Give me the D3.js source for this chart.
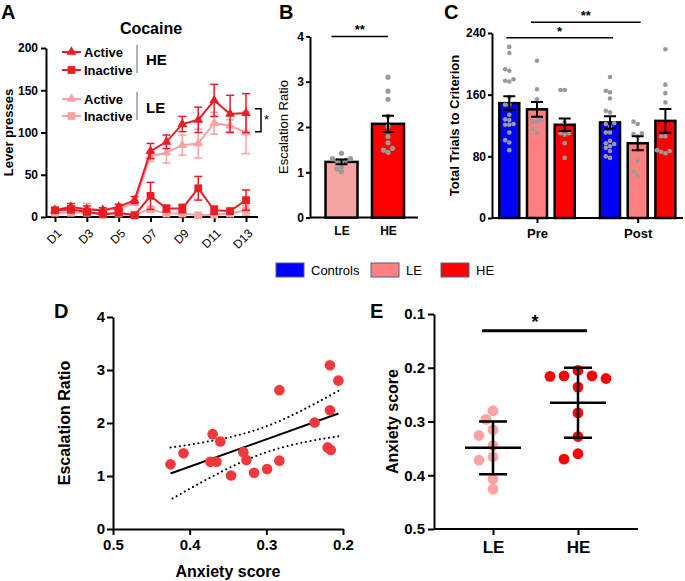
<!DOCTYPE html>
<html>
<head>
<meta charset="utf-8">
<script src="https://cdn.jsdelivr.net/npm/d3@7"></script>
<style>
  body { margin: 0; background: #fff; }
  svg { display: block; font-family: Arial, "Liberation Sans", sans-serif; }
</style>
</head>
<body>
<div id="chart"></div>
<script>
// ---------- data ----------
// A: lever presses per day (mean, sem)
const days = ["D1","D2","D3","D4","D5","D6","D7","D8","D9","D10","D11","D12","D13"];
const dayLabels = ["D1","D3","D5","D7","D9","D11","D13"];
const heActive      = [8, 12, 9, 8, 12, 20, 78, 89, 110, 115, 138, 122, 123];
const heActiveErr   = [3, 4, 4, 3, 3, 4, 9, 8, 9, 15, 19, 22, 23];
const heInactive    = [8, 9, 6, 3, 5, 2, 25, 10, 10, 34, 8, 7, 20];
const heInactiveErr = [3, 4, 3, 2, 2, 1, 16, 4, 5, 14, 5, 3, 12];
const leActive      = [7, 10, 10, 8, 10, 17, 72, 76, 85, 87, 111, 108, 100];
const leActiveErr   = [3, 3, 6, 3, 3, 3, 6, 12, 12, 17, 13, 7, 25];
const leInactive    = [5, 5, 5, 4, 4, 3, 9, 4, 4, 2, 3, 4, 8];
const leInactiveErr = [2, 2, 2, 2, 2, 1, 3, 2, 2, 1, 1, 2, 6];

// B: escalation ratio
const bGroups = ["LE", "HE"];
const bMeans = [1.23, 2.07];
const bSem = [0.05, 0.18];
const bLePoints = [1.42, 1.30, 1.26, 1.23, 1.27, 1.30, 1.12, 1.07, 1.01];
const bHePoints = [3.10, 2.79, 2.61, 2.24, 2.01, 1.79, 1.65, 1.53, 1.49, 1.44];

// C: total trials to criterion
const cPhases = ["Pre", "Post"];
const cGroups = ["Controls", "LE", "HE"];
const cPreMeans = [149, 141, 121];
const cPreSem = [9, 9.5, 8];
const cPostMeans = [124, 97, 126];
const cPostSem = [8, 9, 15.5];
const cPreControls = [222, 214, 193, 191, 180, 177, 178, 157, 147, 147, 134, 128, 127, 121, 121, 122, 111, 101, 98, 88];
const cPreLE = [204, 167, 154, 127, 125, 125, 110, 115];
const cPreHE = [166, 166, 124, 110, 110, 108, 97, 78];
const cPostControls = [183, 163, 165, 155, 137, 139, 123, 118, 122, 111, 111, 97, 96, 100, 91, 93, 87, 78, 80];
const cPostLE = [122, 125, 109, 110, 106, 74, 60, 55];
const cPostHE = [219, 173, 162, 150, 106, 106, 87, 84, 86, 88];

// D: anxiety score vs escalation ratio
const dAnxiety = [0.425, 0.408, 0.370, 0.360, 0.373, 0.365, 0.346, 0.330, 0.326, 0.316, 0.299, 0.283, 0.283, 0.237, 0.217, 0.217, 0.220, 0.216, 0.206];
const dRatio   = [1.22, 1.43, 1.79, 1.65, 1.27, 1.27, 1.01, 1.45, 1.30, 1.06, 1.13, 2.62, 1.29, 2.01, 2.24, 3.09, 1.54, 1.49, 2.80];

// E: anxiety score (mean, sd)
const eGroups = ["LE", "HE"];
const eLePoints = [0.280, 0.296, 0.315, 0.326, 0.345, 0.366, 0.372, 0.407, 0.426];
const eHePoints = [0.215, 0.220, 0.205, 0.216, 0.215, 0.236, 0.284, 0.328, 0.360, 0.370];
const eMeans = [0.349, 0.265];
const eSd = [0.049, 0.065];

// ---------- setup ----------
const HE_RED = "#ec1c24";
const LE_PINK = "#f6a3a3";
const BLUE = "#0000ff";
const PINK_C = "#ff8080";
const RED = "#ff0000";
const GREY = "#9a9a9a";

const svg = d3.select("#chart").append("svg")
  .attr("width", 685)
  .attr("height", 581);

// style an axis the GraphPad way
function styleAxis(g, size, bold) {
  g.attr("font-family", null).attr("font-size", null);
  g.select(".domain").attr("stroke", "#000").attr("stroke-width", 2);
  g.selectAll(".tick line").attr("stroke", "#000").attr("stroke-width", 2);
  g.selectAll(".tick text")
    .attr("fill", "#000")
    .attr("font-size", size + "px")
    .attr("font-weight", bold ? "bold" : "normal");
}

// simple beeswarm so points don't overlap
function swarm(values, yScale, r, cx, step) {
  const placed = [];
  const out = new Array(values.length);
  const order = values.map((v, i) => i).sort((a, b) => values[a] - values[b]);
  order.forEach(i => {
    const y = yScale(values[i]);
    let k = 0, x;
    while (true) {
      const off = k === 0 ? 0 : (k % 2 ? -1 : 1) * Math.ceil(k / 2) * step;
      x = cx + off;
      if (placed.every(p => Math.hypot(p.x - x, p.y - y) >= 2 * r * 0.9)) break;
      k++;
    }
    placed.push({ x, y });
    out[i] = { x, y };
  });
  return out;
}

function panelLetter(t, x, y) {
  svg.append("text").attr("x", x).attr("y", y).text(t)
    .attr("font-size", "20px").attr("font-weight", "bold");
}

// ---------- A ----------
const aLeft = 46, aRight = 258;
const aX = d3.scalePoint().domain(days).range([55, 246]);
const aY = d3.scaleLinear().domain([0, 200]).range([217, 48]);
const gA = svg.append("g");

panelLetter("A", 1, 19);
gA.append("text").attr("x", 151).attr("y", 34).attr("text-anchor", "middle")
  .attr("font-size", "16px").attr("font-weight", "bold").text("Cocaine");

gA.append("g").attr("transform", `translate(${aLeft},0)`)
  .call(d3.axisLeft(aY).tickValues([0, 50, 100, 150, 200]).tickSize(5).tickSizeOuter(0).tickPadding(3))
  .call(g => styleAxis(g, 12, true));

gA.append("g").attr("transform", `translate(0,${aY(0)})`)
  .call(d3.axisBottom(aX).tickValues(dayLabels).tickSize(5).tickSizeOuter(0))
  .call(g => styleAxis(g, 12, false))
  .call(g => g.select(".domain").attr("d", `M${aLeft},0H${aRight}`))
  .call(g => g.selectAll(".tick text")
    .attr("y", 0).attr("dy", 0).attr("x", 0)
    .attr("text-anchor", "end")
    .attr("transform", "translate(7,17) rotate(-45)"));

gA.append("text")
  .attr("transform", `translate(13,${aY(100)}) rotate(-90)`)
  .attr("text-anchor", "middle")
  .attr("font-size", "13px").attr("font-weight", "bold")
  .text("Lever presses");

const aSeries = [
  { values: leInactive, err: leInactiveErr, color: LE_PINK, shape: "square" },
  { values: leActive, err: leActiveErr, color: LE_PINK, shape: "triangle" },
  { values: heInactive, err: heInactiveErr, color: HE_RED, shape: "square" },
  { values: heActive, err: heActiveErr, color: HE_RED, shape: "triangle" }
];

function marker(shape) {
  return shape === "square"
    ? d3.symbol(d3.symbolSquare, 60)()
    : d3.symbol(d3.symbolTriangle, 42)();
}

aSeries.forEach(s => {
  const g = gA.append("g");
  const pts = days.map((d, i) => ({ d, v: s.values[i], e: s.err[i] }));
  const eb = g.selectAll(".eb").data(pts).join("g")
    .attr("stroke", s.color).attr("stroke-width", 1.5);
  eb.append("line")
    .attr("x1", p => aX(p.d)).attr("x2", p => aX(p.d))
    .attr("y1", p => aY(Math.max(0, p.v - p.e))).attr("y2", p => aY(p.v + p.e));
  eb.append("line")
    .attr("x1", p => aX(p.d) - 4).attr("x2", p => aX(p.d) + 4)
    .attr("y1", p => aY(p.v + p.e)).attr("y2", p => aY(p.v + p.e));
  eb.append("line")
    .attr("x1", p => aX(p.d) - 4).attr("x2", p => aX(p.d) + 4)
    .attr("y1", p => aY(Math.max(0, p.v - p.e))).attr("y2", p => aY(Math.max(0, p.v - p.e)));
  g.append("path").datum(pts)
    .attr("fill", "none").attr("stroke", s.color).attr("stroke-width", 2)
    .attr("d", d3.line().x(p => aX(p.d)).y(p => aY(p.v)));
  g.selectAll(".m").data(pts).join("path")
    .attr("transform", p => `translate(${aX(p.d)},${aY(p.v)})`)
    .attr("d", marker(s.shape))
    .attr("fill", s.color);
});

// legend inside A
const aLegend = [
  { label: "Active", color: HE_RED, shape: "triangle", y: 52 },
  { label: "Inactive", color: HE_RED, shape: "square", y: 70 },
  { label: "Active", color: LE_PINK, shape: "triangle", y: 99 },
  { label: "Inactive", color: LE_PINK, shape: "square", y: 116 }
];
const aLeg = gA.append("g").selectAll("g").data(aLegend).join("g")
  .attr("transform", d => `translate(62,${d.y})`);
aLeg.append("line").attr("x1", 0).attr("x2", 19)
  .attr("stroke", d => d.color).attr("stroke-width", 2);
aLeg.append("path").attr("transform", "translate(9.5,0)")
  .attr("d", d => marker(d.shape)).attr("fill", d => d.color);
aLeg.append("text").attr("x", 22).attr("dy", "0.36em")
  .attr("font-size", "13px").attr("font-weight", "bold").text(d => d.label);
[["HE", 45, 73, 65], ["LE", 92, 120, 113]].forEach(([t, y1, y2, ty]) => {
  gA.append("line").attr("x1", 137).attr("x2", 137).attr("y1", y1).attr("y2", y2)
    .attr("stroke", "#999").attr("stroke-width", 1.5);
  gA.append("text").attr("x", 146).attr("y", ty)
    .attr("font-size", "15px").attr("font-weight", "bold").text(t);
});
gA.append("path")
  .attr("d", `M255,${aY(128)}H261V${aY(101)}H255`)
  .attr("fill", "none").attr("stroke", "#000").attr("stroke-width", 1.5);
gA.append("text").attr("x", 264).attr("y", aY(110)).attr("font-size", "13px").text("*");

// ---------- B ----------
const bLeft = 310, bRight = 418;
const bX = d3.scalePoint().domain(bGroups).range([341.5, 388]);
const bY = d3.scaleLinear().domain([0, 4]).range([217.6, 36.4]);
const bBarW = 32;
const bColors = [LE_PINK, RED];
const gB = svg.append("g");
panelLetter("B", 279, 19);

gB.append("g").attr("transform", `translate(${bLeft},0)`)
  .call(d3.axisLeft(bY).ticks(4).tickSize(4).tickSizeOuter(0).tickPadding(2))
  .call(g => styleAxis(g, 12, true));
gB.append("g").attr("transform", `translate(0,${bY(0)})`)
  .call(d3.axisBottom(bX).tickSize(0).tickPadding(9))
  .call(g => styleAxis(g, 12, true))
  .call(g => g.select(".domain").attr("d", `M${bLeft},0H${bRight}`));
gB.append("text")
  .attr("transform", `translate(288,${bY(2)}) rotate(-90)`)
  .attr("text-anchor", "middle").attr("font-size", "13px")
  .text("Escalation Ratio");

gB.selectAll(".bar").data(bGroups).join("rect")
  .attr("x", d => bX(d) - bBarW / 2).attr("width", bBarW)
  .attr("y", (d, i) => bY(bMeans[i])).attr("height", (d, i) => bY(0) - bY(bMeans[i]))
  .attr("fill", (d, i) => bColors[i]).attr("stroke", "#000").attr("stroke-width", 2.5);

[bLePoints, bHePoints].forEach((vals, gi) => {
  const pts = swarm(vals, bY, 2.6, bX(bGroups[gi]), 4.5);
  gB.append("g").selectAll("circle").data(pts).join("circle")
    .attr("cx", p => p.x).attr("cy", p => p.y).attr("r", 2.6).attr("fill", GREY);
});
bGroups.forEach((d, i) => {
  const x = bX(d), top = bY(bMeans[i] + bSem[i]), bot = bY(bMeans[i] - bSem[i]);
  gB.append("path").attr("d", `M${x},${top}V${bot}M${x - 6},${top}H${x + 6}M${x - 6},${bot}H${x + 6}`)
    .attr("stroke", "#000").attr("stroke-width", 2).attr("fill", "none");
});
gB.append("line").attr("x1", bX("LE") - 10).attr("x2", bX("HE"))
  .attr("y1", bY(4)).attr("y2", bY(4)).attr("stroke", "#000").attr("stroke-width", 1.5);
gB.append("text").attr("x", (bX("LE") - 10 + bX("HE")) / 2).attr("y", bY(4) - 2)
  .attr("text-anchor", "middle").attr("font-size", "13px").attr("font-weight", "bold").text("**");

// ---------- C ----------
const cLeft = 492, cRight = 683;
const cX0 = d3.scalePoint().domain(cPhases).range([537, 637.7]);
const cX1 = d3.scalePoint().domain(cGroups).range([-27.7, 27.7]);
const cY = d3.scaleLinear().domain([0, 240]).range([218, 33]);
const cBarW = 20;
const cColors = [BLUE, PINK_C, RED];
const cMeans = [cPreMeans, cPostMeans];
const cSem = [cPreSem, cPostSem];
const cPoints = [[cPreControls, cPreLE, cPreHE], [cPostControls, cPostLE, cPostHE]];
const gC = svg.append("g");
panelLetter("C", 444, 19);

gC.append("g").attr("transform", `translate(${cLeft},0)`)
  .call(d3.axisLeft(cY).tickValues([0, 80, 160, 240]).tickSize(4).tickSizeOuter(0).tickPadding(2))
  .call(g => styleAxis(g, 12, true));
gC.append("g").attr("transform", `translate(0,${cY(0)})`)
  .call(d3.axisBottom(cX0).tickSize(5).tickPadding(6))
  .call(g => styleAxis(g, 13, true))
  .call(g => g.select(".domain").attr("d", `M${cLeft},0H${cRight}`));
gC.append("text")
  .attr("transform", `translate(459,${cY(120)}) rotate(-90)`)
  .attr("text-anchor", "middle").attr("font-size", "13px").attr("font-weight", "bold")
  .text("Total Trials to Criterion");

cPhases.forEach((ph, pi) => {
  cGroups.forEach((grp, gi) => {
    const cx = cX0(ph) + cX1(grp);
    const m = cMeans[pi][gi], e = cSem[pi][gi];
    gC.append("rect")
      .attr("x", cx - cBarW / 2).attr("width", cBarW)
      .attr("y", cY(m)).attr("height", cY(0) - cY(m))
      .attr("fill", cColors[gi]).attr("stroke", "#000").attr("stroke-width", 2.5);
    const pts = swarm(cPoints[pi][gi], cY, 2.3, cx, 4.2);
    gC.append("g").selectAll("circle").data(pts).join("circle")
      .attr("cx", p => p.x).attr("cy", p => p.y).attr("r", 2.3).attr("fill", GREY);
    const top = cY(m + e), bot = cY(m - e);
    gC.append("path").attr("d", `M${cx},${top}V${bot}M${cx - 6},${top}H${cx + 6}M${cx - 6},${bot}H${cx + 6}`)
      .attr("stroke", "#000").attr("stroke-width", 2).attr("fill", "none");
  });
});
const cSig = [
  { x1: cX0("Pre") + cX1("Controls") - 3, x2: cX0("Post") + cX1("Controls") + 3, v: 234, t: "*" },
  { x1: cX0("Pre") + cX1("LE") - 6, x2: cX0("Post") + cX1("LE") + 3, v: 254, t: "**" }
];
cSig.forEach(s => {
  gC.append("line").attr("x1", s.x1).attr("x2", s.x2).attr("y1", cY(s.v)).attr("y2", cY(s.v))
    .attr("stroke", "#000").attr("stroke-width", 1.5);
  gC.append("text").attr("x", (s.x1 + s.x2) / 2).attr("y", cY(s.v) - 2)
    .attr("text-anchor", "middle").attr("font-size", "13px").attr("font-weight", "bold").text(s.t);
});

// ---------- shared legend ----------
const legItems = [
  { label: "Controls", color: BLUE, x: 276 },
  { label: "LE", color: PINK_C, x: 371 },
  { label: "HE", color: RED, x: 441 }
];
const leg = svg.append("g").selectAll("g").data(legItems).join("g")
  .attr("transform", d => `translate(${d.x},263)`);
leg.append("rect").attr("width", 28).attr("height", 14)
  .attr("fill", d => d.color).attr("stroke", "#4f5f8f").attr("stroke-width", 1);
leg.append("text").attr("x", 35).attr("y", 12).attr("font-size", "13px").text(d => d.label);

// ---------- D ----------
const dX = d3.scaleLinear().domain([0.5, 0.2]).range([113, 343]);
const dY = d3.scaleLinear().domain([0, 4]).range([529, 317]);
const gD = svg.append("g");
panelLetter("D", 54, 318);

gD.append("g").attr("transform", `translate(${dX(0.5)},0)`)
  .call(d3.axisLeft(dY).ticks(4).tickSize(6).tickSizeOuter(0).tickPadding(2))
  .call(g => styleAxis(g, 15, true));
gD.append("g").attr("transform", `translate(0,${dY(0)})`)
  .call(d3.axisBottom(dX).tickValues([0.5, 0.4, 0.3, 0.2]).tickFormat(d3.format(".1f")).tickSize(6).tickSizeOuter(0).tickPadding(4))
  .call(g => styleAxis(g, 15, true));
gD.append("text")
  .attr("transform", `translate(70,${dY(2)}) rotate(-90)`)
  .attr("text-anchor", "middle").attr("font-size", "16px").attr("font-weight", "bold")
  .text("Escalation Ratio");
gD.append("text").attr("x", dX(0.35)).attr("y", 577)
  .attr("text-anchor", "middle").attr("font-size", "16px").attr("font-weight", "bold")
  .text("Anxiety score");

// linear fit and 95% confidence band
const n = dAnxiety.length;
const mx = d3.mean(dAnxiety), my = d3.mean(dRatio);
const sxx = d3.sum(dAnxiety, x => (x - mx) ** 2);
const sxy = d3.sum(dAnxiety, (x, i) => (x - mx) * (dRatio[i] - my));
const slope = sxy / sxx, intercept = my - slope * mx;
const sRes = Math.sqrt(d3.sum(dAnxiety, (x, i) => (dRatio[i] - (intercept + slope * x)) ** 2) / (n - 2));
const tCrit = 2.1098; // t(0.975, df = 17)
const xMin = d3.min(dAnxiety), xMax = d3.max(dAnxiety);
const xs = d3.range(0, 41).map(k => xMin + (xMax - xMin) * k / 40);
const band = sign => xs.map(x => [x, intercept + slope * x + sign * tCrit * sRes * Math.sqrt(1 / n + (x - mx) ** 2 / sxx)]);
const dLine = d3.line().x(p => dX(p[0])).y(p => dY(p[1]));
[1, -1].forEach(sg => {
  gD.append("path").datum(band(sg)).attr("d", dLine)
    .attr("fill", "none").attr("stroke", "#000").attr("stroke-width", 2)
    .attr("stroke-linecap", "round").attr("stroke-dasharray", "0.1,4.6");
});
gD.append("path").datum([[xMin, intercept + slope * xMin], [xMax, intercept + slope * xMax]])
  .attr("d", dLine).attr("fill", "none").attr("stroke", "#000").attr("stroke-width", 2);
gD.append("g").selectAll("circle").data(dAnxiety).join("circle")
  .attr("cx", d => dX(d)).attr("cy", (d, i) => dY(dRatio[i])).attr("r", 5.3)
  .attr("fill", "#f2383c");

// ---------- E ----------
const eLeft = 434, eRight = 638;
const eX = d3.scalePoint().domain(eGroups).range([493, 578]);
const eY = d3.scaleLinear().domain([0.1, 0.5]).range([314, 529]);
const eColors = ["#ffa2a2", RED];
const gE = svg.append("g");
panelLetter("E", 370, 318);

gE.append("g").attr("transform", `translate(${eLeft},0)`)
  .call(d3.axisLeft(eY).tickValues([0.1, 0.2, 0.3, 0.4, 0.5]).tickFormat(d3.format(".1f")).tickSize(6).tickSizeOuter(0).tickPadding(3))
  .call(g => styleAxis(g, 15, true));
gE.append("g").attr("transform", `translate(0,${eY(0.5)})`)
  .call(d3.axisBottom(eX).tickSize(6).tickPadding(6))
  .call(g => styleAxis(g, 17, true))
  .call(g => g.select(".domain").attr("d", `M${eLeft},0H${eRight}`));
gE.append("text")
  .attr("transform", `translate(398,${eY(0.3)}) rotate(-90)`)
  .attr("text-anchor", "middle").attr("font-size", "16px").attr("font-weight", "bold")
  .text("Anxiety score");

[eLePoints, eHePoints].forEach((vals, gi) => {
  const pts = swarm(vals, eY, 5.4, eX(eGroups[gi]), 7);
  gE.append("g").selectAll("circle").data(pts).join("circle")
    .attr("cx", p => p.x).attr("cy", p => p.y).attr("r", 5.4).attr("fill", eColors[gi]);
});
eGroups.forEach((d, i) => {
  const x = eX(d), m = eY(eMeans[i]), top = eY(eMeans[i] - eSd[i]), bot = eY(eMeans[i] + eSd[i]);
  gE.append("path")
    .attr("d", `M${x},${top}V${bot}M${x - 14},${top}H${x + 14}M${x - 14},${bot}H${x + 14}M${x - 28},${m}H${x + 28}`)
    .attr("stroke", "#000").attr("stroke-width", 2.5).attr("fill", "none");
});
gE.append("line").attr("x1", 482).attr("x2", 587).attr("y1", eY(0.131)).attr("y2", eY(0.131))
  .attr("stroke", "#000").attr("stroke-width", 3);
gE.append("text").attr("x", 535).attr("y", eY(0.131) - 3)
  .attr("text-anchor", "middle").attr("font-size", "18px").attr("font-weight", "bold").text("*");
</script>
</body>
</html>
